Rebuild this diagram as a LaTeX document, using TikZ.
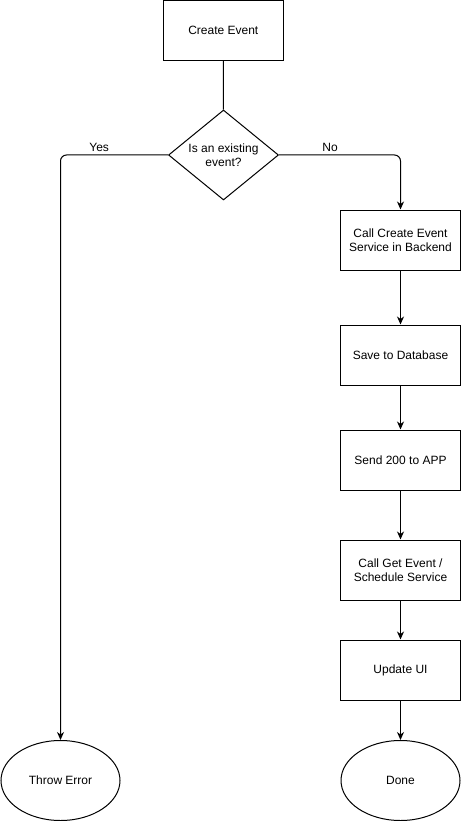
\documentclass[tikz,border=0pt]{standalone}
\usepackage{fontspec}
\setmainfont{Liberation Sans}
\usetikzlibrary{arrows.meta,shapes.geometric}
\begin{document}
\begin{tikzpicture}[x=1pt,y=-1pt,line width=1pt,
  font=\fontsize{12}{14.5}\selectfont,
  box/.style={draw,rectangle,minimum width=120pt,minimum height=60pt,inner sep=0pt,align=center},
  decision/.style={draw,diamond,aspect=1.22,minimum width=110pt,minimum height=90pt,inner sep=0pt,align=center},
  terminal/.style={draw,ellipse,minimum width=119pt,minimum height=80pt,inner sep=0pt},
  arr/.style={-{Stealth[length=8pt,width=7pt,inset=2.5pt]}}]
\useasboundingbox (0,0) rectangle (461,821);

\node[box] (create) at (223.3,30.3) {Create Event};
\node[decision] (check) at (223.5,155) {Is an existing\\event?};

\foreach \n/\y/\t in {backend/240/{Call Create Event\\Service in Backend},
  save/355/{Save to Database},
  send/460/{Send 200 to APP},
  fetch/570/{Call Get Event /\\Schedule Service},
  ui/670/{Update UI}}
\node[box] (\n) at (400.5,\y) {\t};

\node[terminal] (error) at (60.5,780.5) {Throw Error};
\node[terminal] (done) at (400.5,780.5) {Done};

\draw (create) -- (check);
\draw[arr,rounded corners=6pt] (check.west) -| node[above,pos=0.32]{Yes} (error.north);
\draw[arr,rounded corners=6pt] (check.east) -| node[above,pos=0.21]{No} (backend.north);

\foreach \a/\b in {backend/save,save/send,send/fetch,fetch/ui,ui/done}
\draw[arr] (\a) -- (\b);
\end{tikzpicture}
\end{document}
